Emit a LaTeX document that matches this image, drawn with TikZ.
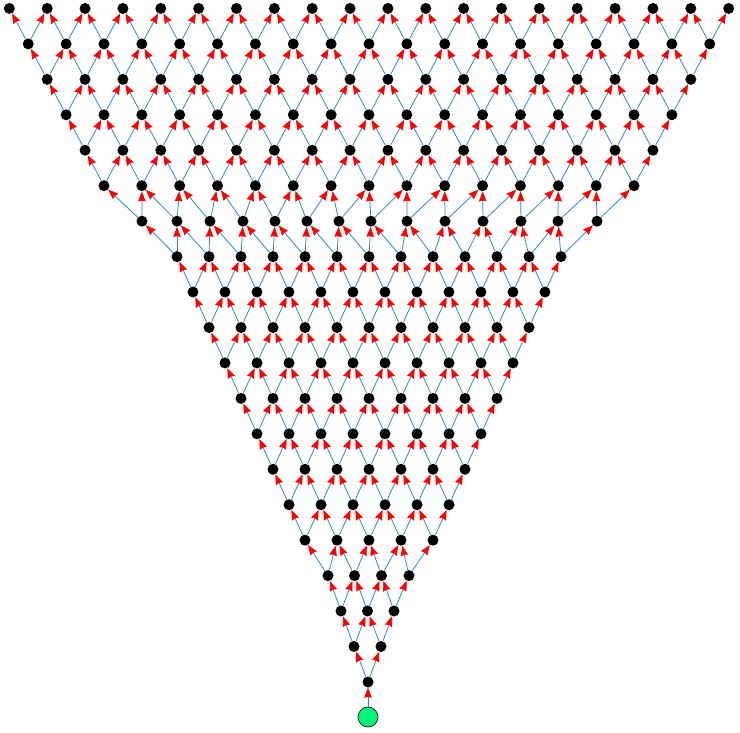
\documentclass[tikz,border=0pt]{standalone}
\usetikzlibrary{arrows.meta}
\definecolor{edgeblue}{RGB}{30,125,255}
\definecolor{rootgreen}{RGB}{0,245,120}
\tikzset{
  dot/.style={circle,fill=black,inner sep=0pt,minimum size=11pt},
  rootdot/.style={circle,fill=rootgreen,draw=black,line width=0.6pt,inner sep=0pt,minimum size=20pt},
  lnk/.style={draw=edgeblue,line width=0.75pt,-{Stealth[length=10pt,width=7.5pt,inset=0.8pt,color=red]}}
}
\begin{document}
\begin{tikzpicture}[x=1pt,y=-1pt]
\useasboundingbox (0,0) rectangle (740,733);
% root
\node[rootdot] (root) at (368,717) {};
% rows 1-4
\node[dot] (n-1-0) at (368,682) {};
\foreach \x [count=\i from 0] in {354,381}{\node[dot] (n-2-\i) at (\x,646.5) {};}
\foreach \x [count=\i from 0] in {341,367.5,394}{\node[dot] (n-3-\i) at (\x,611) {};}
\foreach \x [count=\i from 0] in {328,354.5,381.5,409}{\node[dot] (n-4-\i) at (\x,575.6) {};}
% rows 5-13
\foreach \n in {5,...,13}{
  \pgfmathtruncatemacro\m{\n-1}
  \pgfmathsetmacro\yy{682-(\n-1)*35.45}
  \foreach \i in {0,...,\m}{
    \pgfmathsetmacro\xx{369-(\n-1)*16+32*\i}
    \node[dot] (n-\n-\i) at (\xx,\yy) {};
  }
}
% row 14
\foreach \x [count=\i from 0] in {142,177,210,243,275,307,339,371,407,445,483,521,558,597}{
  \node[dot] (n-14-\i) at (\x,221.2) {};
}
% rows 15-20
\foreach \n in {15,...,20}{
  \pgfmathtruncatemacro\m{\n-1}
  \pgfmathsetmacro\yy{682-(\n-1)*35.45}
  \foreach \i in {0,...,\m}{
    \pgfmathsetmacro\xx{369-(\n-1)*18.93+37.86*\i}
    \node[dot] (n-\n-\i) at (\xx,\yy) {};
  }
}
% edges
\draw[lnk] (root) -- (n-1-0);
\foreach \n in {1,...,19}{
  \pgfmathtruncatemacro\m{\n-1}
  \pgfmathtruncatemacro\np{\n+1}
  \foreach \i in {0,...,\m}{
    \pgfmathtruncatemacro\ip{\i+1}
    \draw[lnk] (n-\n-\i) -- (n-\np-\i);
    \draw[lnk] (n-\n-\i) -- (n-\np-\ip);
  }
}
\end{tikzpicture}
\end{document}
